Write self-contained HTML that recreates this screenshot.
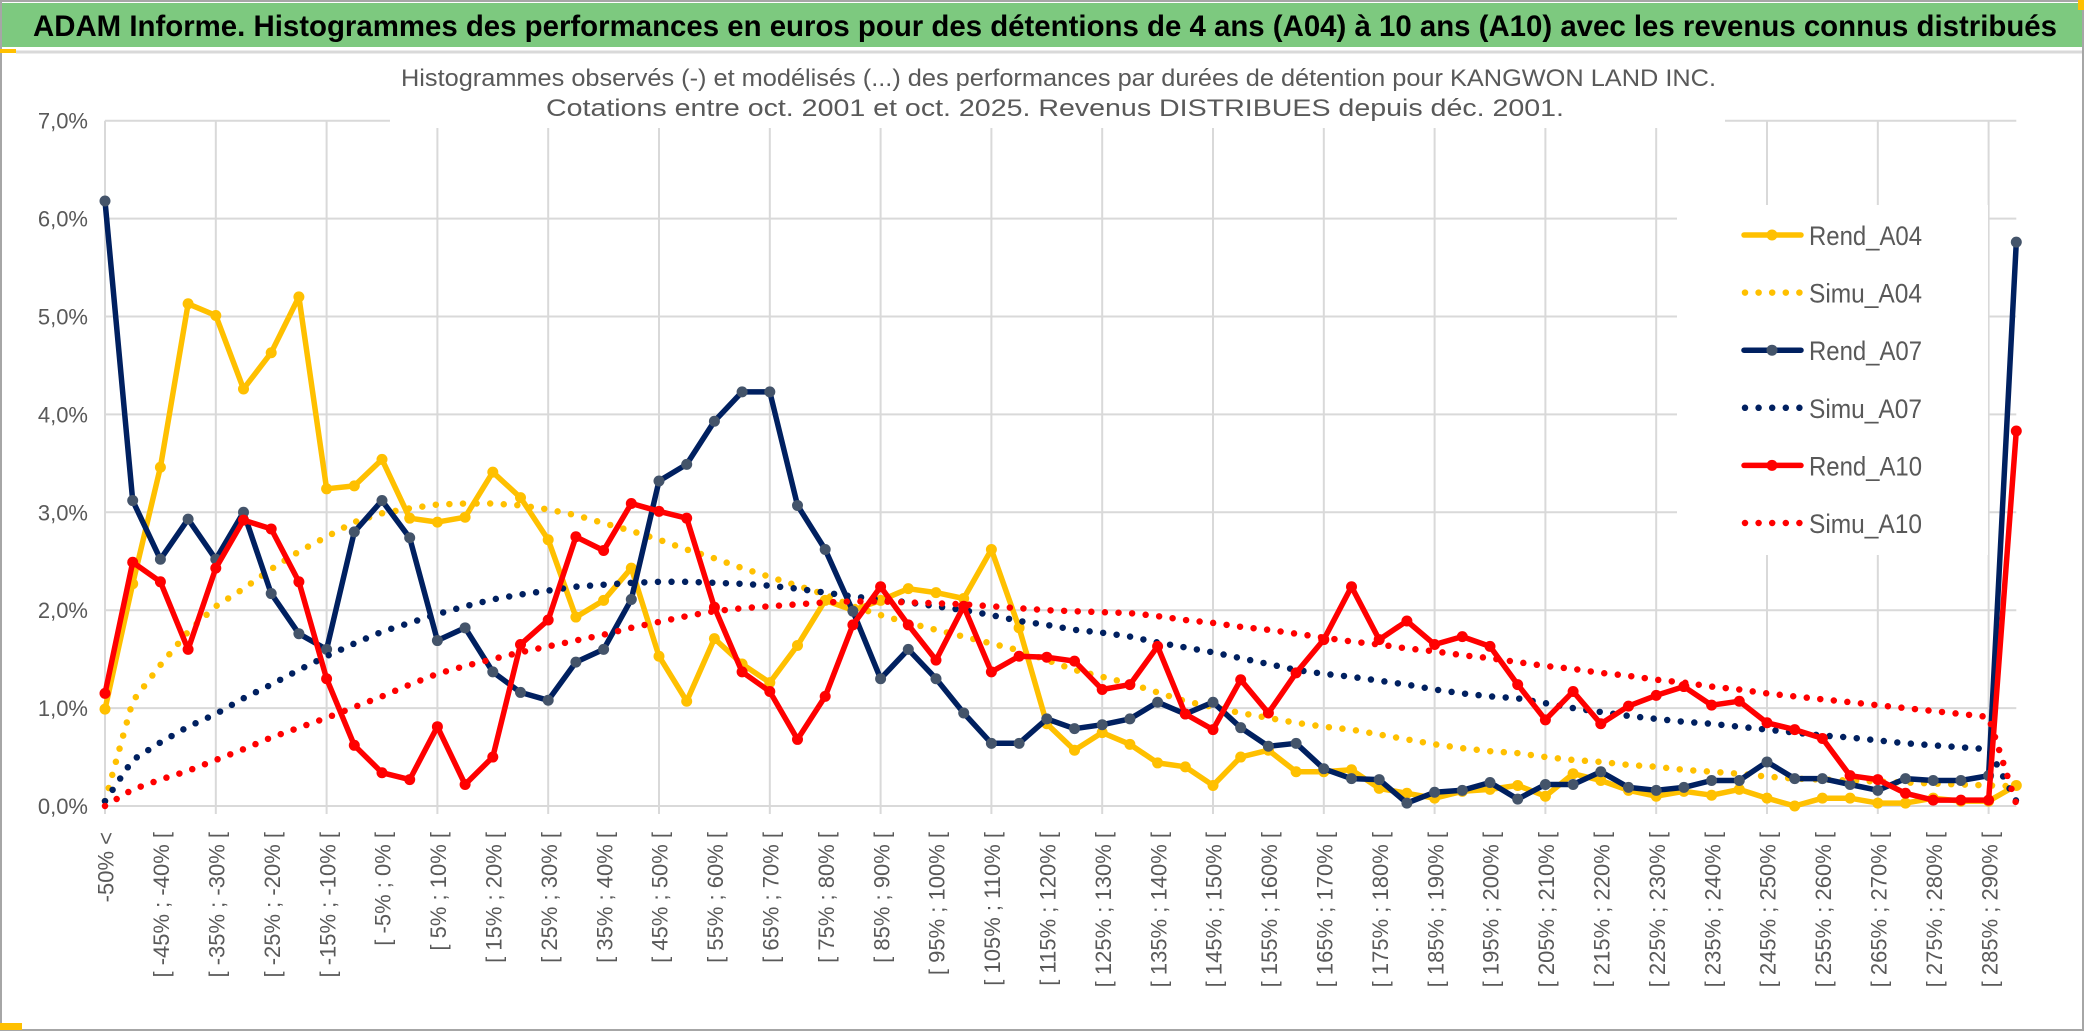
<!DOCTYPE html>
<html><head><meta charset="utf-8"><style>
html,body{margin:0;padding:0;background:#fff;}
svg{display:block;font-family:"Liberation Sans",sans-serif;}
</style></head><body>
<svg id="chart" width="2086" height="1033" viewBox="0 0 2086 1033" xmlns="http://www.w3.org/2000/svg">
<rect x="1" y="1" width="2082" height="1029" fill="#fff" stroke="#a6a6a6" stroke-width="2"/>
<rect x="2" y="3" width="2080" height="44" fill="#7dc97f"/>
<rect x="0" y="49" width="16" height="4" fill="#ffc000"/>
<rect x="0" y="1023" width="22" height="7" fill="#ffc000"/>
<rect x="2078" y="0" width="6" height="10" fill="#ffc000"/>
<line x1="16" y1="52" x2="2082" y2="52" stroke="#d9d9d9" stroke-width="3"/>
<text x="33" y="36" font-size="30" font-weight="bold" fill="#000" textLength="2024" lengthAdjust="spacingAndGlyphs">ADAM Informe. Histogrammes des performances en euros pour des détentions de 4 ans (A04) à 10 ans (A10) avec les revenus connus distribués</text>
<g id="grid"></g>
<g id="yticks"></g>
<g id="xticks"></g>
<rect x="390" y="58" width="1335" height="70" fill="#fff"/>
<text x="401" y="86" font-size="24" fill="#595959" textLength="1315" lengthAdjust="spacingAndGlyphs">Histogrammes observés (-) et modélisés (...) des performances par durées de détention pour KANGWON LAND INC.</text>
<text x="546" y="116" font-size="24" fill="#595959" textLength="1018" lengthAdjust="spacingAndGlyphs">Cotations entre oct. 2001 et oct. 2025. Revenus DISTRIBUES depuis déc. 2001.</text>
<g id="series"></g>
<g id="legend"></g>
</svg>
<script>
const categories = [];
categories.push("-50% <");
for (let k = 1; k <= 68; k++) { categories.push("[ " + (-55 + 5*k) + "% ; " + (-50 + 5*k) + "% ["); }
categories.push("> 290%");

const yTicks = [0,1,2,3,4,5,6,7];
const yTickLabels = ["0,0%","1,0%","2,0%","3,0%","4,0%","5,0%","6,0%","7,0%"];

const rendA04 = [0.99,2.27,3.46,5.13,5.01,4.26,4.63,5.2,3.24,3.27,3.54,2.94,2.9,
 2.95,3.41,3.15,2.72,1.93,2.1,2.43,1.53,1.07,1.71,1.45,1.26,1.64,2.1,
 2.0,2.1,2.22,2.18,2.12,2.62,1.82,0.84,0.57,0.75,0.63,0.44,0.4,
 0.21,0.5,0.57,0.35,0.35,0.37,0.18,0.13,0.08,0.15,0.17,0.21,
 0.1,0.33,0.26,0.16,0.1,0.15,0.11,0.17,0.08,0.0,0.08,0.08,0.03,0.03,
 0.08,0.05,0.05,0.21];
const simuA04 = [0.05,1.07,1.44,1.78,2.04,2.22,2.42,2.6,2.75,2.9,2.99,3.04,3.08,3.09,3.09,3.07,3.03,2.97,2.89,2.81,
 2.72,2.62,2.53,2.43,2.34,2.25,2.16,2.04,1.95,1.87,1.8,1.73,1.66,1.59,1.49,1.39,1.32,1.25,1.16,1.07,
 1.01,0.95,0.9,0.85,0.81,0.78,0.73,0.68,0.63,0.59,0.56,0.54,0.5,0.47,0.45,0.42,0.4,0.37,0.35,0.33,
 0.3,0.28,0.27,0.26,0.25,0.24,0.23,0.22,0.21,0.2];
const rendA07 = [6.18,3.12,2.52,2.93,2.52,3.0,2.17,1.76,1.6,2.8,3.12,2.74,1.69,
 1.82,1.37,1.16,1.08,1.47,1.6,2.11,3.32,3.49,3.93,4.23,4.23,3.07,2.62,
 1.99,1.3,1.6,1.3,0.95,0.64,0.64,0.89,0.79,0.83,0.89,1.06,0.94,
 1.06,0.8,0.61,0.64,0.38,0.28,0.27,0.03,0.14,0.16,0.24,0.07,
 0.22,0.22,0.35,0.19,0.16,0.19,0.26,0.26,0.45,0.28,0.28,0.22,0.16,0.28,
 0.26,0.26,0.31,5.76];
const simuA07 = [0.05,0.47,0.65,0.81,0.94,1.1,1.24,1.39,1.53,1.66,1.78,1.87,1.96,2.04,2.11,2.16,2.2,2.24,2.26,2.28,
 2.29,2.29,2.28,2.27,2.25,2.22,2.18,2.14,2.11,2.08,2.04,2.0,1.95,1.89,1.85,1.8,1.77,1.73,1.67,1.62,
 1.57,1.51,1.45,1.39,1.35,1.32,1.28,1.24,1.19,1.15,1.12,1.1,1.05,1.0,0.96,0.92,0.89,0.86,0.84,0.81,
 0.78,0.75,0.72,0.7,0.67,0.64,0.62,0.6,0.58,0.05];
const rendA10 = [1.15,2.49,2.29,1.6,2.43,2.92,2.83,2.29,1.3,0.62,0.34,0.27,0.81,
 0.22,0.5,1.65,1.9,2.75,2.61,3.09,3.01,2.94,2.03,1.37,1.17,0.68,1.12,
 1.85,2.24,1.85,1.49,2.04,1.37,1.53,1.52,1.48,1.19,1.24,1.63,0.94,
 0.78,1.29,0.95,1.36,1.7,2.24,1.7,1.89,1.65,1.73,1.63,1.24,
 0.88,1.17,0.84,1.02,1.13,1.22,1.03,1.07,0.85,0.78,0.69,0.31,0.27,0.13,
 0.06,0.06,0.06,3.83];
const simuA10 = [0.0,0.17,0.27,0.36,0.47,0.58,0.7,0.8,0.9,1.01,1.12,1.24,1.35,1.43,1.5,1.57,1.63,1.69,1.75,1.82,
 1.88,1.94,1.99,2.02,2.04,2.06,2.08,2.09,2.09,2.08,2.07,2.06,2.04,2.02,2.0,1.99,1.98,1.97,1.94,1.9,
 1.87,1.83,1.8,1.76,1.72,1.68,1.65,1.61,1.58,1.54,1.51,1.47,1.43,1.4,1.36,1.33,1.29,1.26,1.22,1.19,
 1.15,1.12,1.09,1.06,1.03,1.0,0.97,0.94,0.91,0.02];
const legendLabels = ["Rend_A04","Simu_A04","Rend_A07","Simu_A07","Rend_A10","Simu_A10"];

const NS = "http://www.w3.org/2000/svg";
const X0 = 105, DX = 27.7, Y0 = 806, DY = 97.9;
function xs(i){ return X0 + i*DX; }
function ys(v){ return Y0 - v*DY; }
function mk(tag, attrs, parent){ const e = document.createElementNS(NS, tag); for (const k in attrs) e.setAttribute(k, attrs[k]); parent.appendChild(e); return e; }

const grid = document.getElementById("grid");
const xEnd = xs(categories.length - 1);
yTicks.forEach(function(t){
  const l = mk("line", {x1: X0, x2: xEnd, y1: ys(t), y2: ys(t), stroke: "#d9d9d9", "stroke-width": 2}, grid);
  
  
});
for (let i = 0; i < categories.length; i += 4) {
  const l = mk("line", {x1: xs(i), x2: xs(i), y1: ys(7), y2: Y0 + 8, stroke: "#d9d9d9", "stroke-width": 2}, grid);
  
  
}
const yt = document.getElementById("yticks");
yTicks.forEach(function(t, k){
  const e = mk("text", {x: 88, y: ys(t) + 8, "font-size": 22, fill: "#595959", "text-anchor": "end"}, yt);
  e.textContent = yTickLabels[k];
  
  
});
const xt = document.getElementById("xticks");
categories.forEach(function(c, i){
  if (i % 2 !== 0 || i > 68) return;
  const x = xs(i) + 1, y = 832;
  const e = mk("text", {x: x, y: y, dy: "0.35em", "font-size": 22, fill: "#595959", "text-anchor": "end", transform: "rotate(-90 " + x + " " + y + ")"}, xt);
  e.textContent = c;
  
  
});

const seriesG = document.getElementById("series");
function ptsOf(arr){ return arr.map(function(v,i){ return xs(i).toFixed(1) + "," + ys(v).toFixed(1); }).join(" "); }
function simu(arr, color, name){
  const p = mk("polyline", {points: ptsOf(arr), fill: "none", stroke: color, "stroke-width": 6.5, "stroke-linecap": "round", "stroke-dasharray": "0 13.6"}, seriesG);
  
  
}
function rend(arr, color, mcolor, name){
  const p = mk("polyline", {points: ptsOf(arr), fill: "none", stroke: color, "stroke-width": 5.5, "stroke-linejoin": "round"}, seriesG);
  
  
  arr.forEach(function(v,i){
    const c = mk("circle", {cx: xs(i), cy: ys(v), r: 5.5, fill: mcolor}, seriesG);
    
    
  });
}
rend(rendA04, "#ffc000", "#ffc000", "rend-a04-line");
simu(simuA04, "#ffc000", "simu-a04-line");
rend(rendA07, "#002060", "#44546a", "rend-a07-line");
simu(simuA07, "#002060", "simu-a07-line");
rend(rendA10, "#ff0000", "#ff0000", "rend-a10-line");
simu(simuA10, "#ff0000", "simu-a10-line");

const lg = document.getElementById("legend");
const bg = mk("rect", {x: 1677, y: 205, width: 311, height: 350, fill: "#fff"}, lg);


const lColors = ["#ffc000","#ffc000","#002060","#002060","#ff0000","#ff0000"];
const lMarkers = ["#ffc000",null,"#44546a",null,"#ff0000",null];
legendLabels.forEach(function(lbl, k){
  const cy = 235 + k*57.6;
  if (lMarkers[k]) {
    const l = mk("line", {x1: 1744, x2: 1801, y1: cy, y2: cy, stroke: lColors[k], "stroke-width": 5.5, "stroke-linecap": "round"}, lg);
    
    
    const c = mk("circle", {cx: 1772, cy: cy, r: 5.5, fill: lMarkers[k]}, lg);
    
    
  } else {
    const l = mk("line", {x1: 1745, x2: 1801, y1: cy, y2: cy, stroke: lColors[k], "stroke-width": 6.5, "stroke-linecap": "round", "stroke-dasharray": "0 13.6"}, lg);
    
    
  }
  const t = mk("text", {x: 1809, y: cy + 10, "font-size": 27, fill: "#595959", textLength: 113, lengthAdjust: "spacingAndGlyphs"}, lg);
  t.textContent = lbl;
  
  
});
</script>
</body></html>
